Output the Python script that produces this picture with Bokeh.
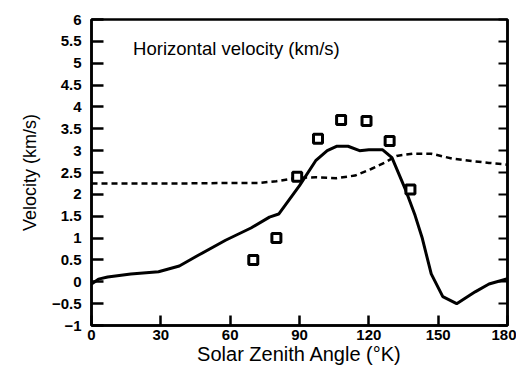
from bokeh.plotting import figure
from bokeh.models import FixedTicker, LinearAxis, Label, Range1d
from bokeh.embed import file_html
from bokeh.resources import INLINE

# Data
solid_x = [0, 3, 7, 17, 29, 38, 46, 58, 69, 77, 81, 90, 97, 102, 106, 111, 116, 120, 126, 130, 136, 140, 143, 147, 152, 158, 166, 172, 180]
solid_y = [-0.05, 0.06, 0.11, 0.18, 0.23, 0.36, 0.6, 0.95, 1.23, 1.48, 1.55, 2.2, 2.77, 3.0, 3.1, 3.1, 3.0, 3.02, 3.02, 2.84, 2.09, 1.52, 1.02, 0.18, -0.34, -0.5, -0.23, -0.05, 0.07]

dashed_x = [0, 20, 40, 60, 72, 80, 89, 97, 106, 114, 121, 127, 132, 139, 147, 156, 165, 172, 180]
dashed_y = [2.25, 2.25, 2.25, 2.26, 2.26, 2.3, 2.38, 2.39, 2.37, 2.43, 2.58, 2.73, 2.88, 2.93, 2.93, 2.82, 2.76, 2.72, 2.68]

obs_x = [70, 80, 89, 98, 108, 119, 129, 138]
obs_y = [0.5, 1.0, 2.4, 3.27, 3.7, 3.68, 3.22, 2.11]

x_ticks = [0, 30, 60, 90, 120, 150, 180]
x_tick_labels = ["0", "30", "60", "90", "120", "150", "180"]
y_ticks = [-1, -0.5, 0, 0.5, 1, 1.5, 2, 2.5, 3, 3.5, 4, 4.5, 5, 5.5, 6]
y_tick_labels = ["\u22121", "\u22120.5", "0", "0.5", "1", "1.5", "2", "2.5", "3", "3.5", "4", "4.5", "5", "5.5", "6"]

FONT = "Liberation Sans"

p = figure(width=516, height=367, output_backend="svg", toolbar_location=None,
           x_range=Range1d(0, 180), y_range=Range1d(-1, 6))
p.min_border_left = 91
p.min_border_right = 9
p.min_border_top = 19
p.min_border_bottom = 41
p.grid.visible = False
p.outline_line_color = "black"
p.outline_line_width = 2.5
p.background_fill_color = "white"
p.border_fill_color = "white"

p.xaxis.ticker = FixedTicker(ticks=x_ticks)
p.xaxis.major_label_overrides = {t: l for t, l in zip(x_ticks, x_tick_labels)}
p.yaxis.ticker = FixedTicker(ticks=y_ticks)
p.yaxis.major_label_overrides = {t: l for t, l in zip(y_ticks, y_tick_labels)}

for ax in (p.xaxis[0], p.yaxis[0]):
    ax.axis_line_color = "black"
    ax.axis_line_width = 2.5
    ax.major_tick_out = 0
    ax.major_tick_line_width = 2.5
    ax.minor_tick_line_color = None
    ax.major_label_text_font = FONT
    ax.major_label_text_font_style = "bold"
    ax.major_label_text_font_size = "15px"
    ax.major_label_text_color = "black"
    ax.axis_label_text_font = FONT
    ax.axis_label_text_font_style = "normal"
    ax.axis_label_text_color = "black"

p.yaxis.major_tick_in = 12
p.xaxis.major_tick_in = 10

p.xaxis.axis_label = "Solar Zenith Angle (\u00b0K)"
p.xaxis.axis_label_text_font_size = "20px"
p.xaxis.major_label_standoff = 4
p.xaxis.axis_label_standoff = 0
p.yaxis.axis_label = "Velocity (km/s)"
p.yaxis.axis_label_text_font_size = "18px"
p.yaxis.major_label_standoff = 10
p.yaxis.axis_label_standoff = 9

right = LinearAxis(ticker=FixedTicker(ticks=y_ticks))
right.major_label_overrides = {t: "" for t in y_ticks}
right.major_label_text_font_size = "0px"
right.major_label_standoff = 0
right.axis_line_width = 2.5
right.major_tick_in = 9
right.major_tick_out = 0
right.major_tick_line_width = 2
right.minor_tick_line_color = None
p.add_layout(right, "right")

p.line(dashed_x, dashed_y, line_color="black", line_width=2.5, line_dash="6 4")
p.line(solid_x, solid_y, line_color="black", line_width=3)
p.scatter(obs_x, obs_y, marker="square", size=9, fill_color="white",
          line_color="black", line_width=3)

p.add_layout(Label(x=18, y=5.34, text="Horizontal velocity (km/s)",
                   text_font=FONT, text_font_size="18.5px", text_color="black",
                   text_baseline="middle", text_align="left"))

open("out.html", "w").write(file_html(p, INLINE))
